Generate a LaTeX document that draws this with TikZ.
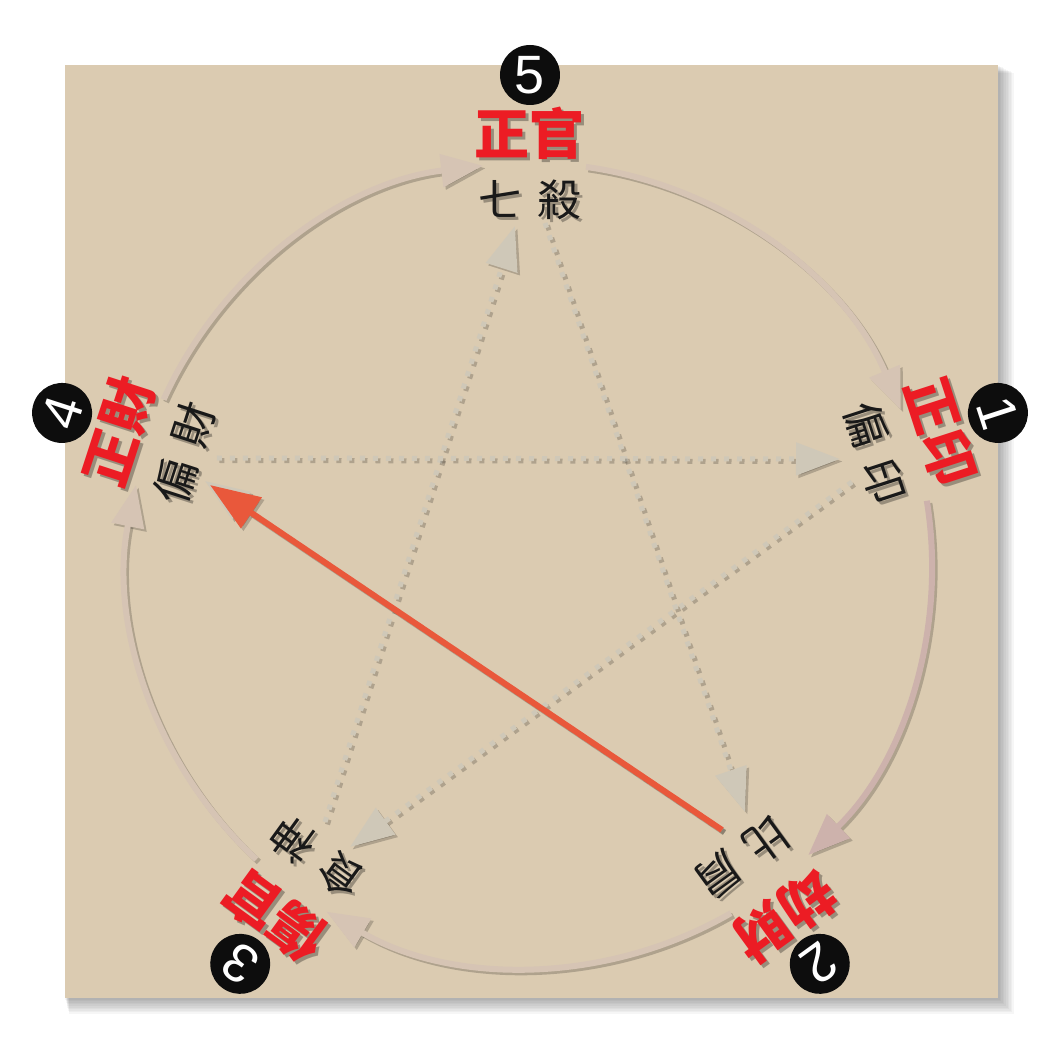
\documentclass[tikz,border=0pt]{standalone}
\usepackage{fontspec}
\newfontfamily\cjk{Noto Sans CJK TC}
\newfontfamily\numf{Liberation Sans}
\usetikzlibrary{arrows.meta,calc}
\definecolor{bg}{HTML}{DBCBB1}
\definecolor{arcc}{HTML}{D6C4B4}
\definecolor{arcd}{HTML}{CDB2AC}
\definecolor{dotc}{HTML}{CFC8B8}
\definecolor{redl}{HTML}{E9583B}
\definecolor{redt}{HTML}{EC1C24}
\newcommand\arcarrow[4]{%
  \coordinate (#2) at (#3:402);
  \draw[#1, draw=black, opacity=.2, transform canvas={shift={(2.5pt,-2.5pt)}}] (#2) arc[start angle=#3, end angle=#4, radius=402];
  \draw[#1] (#2) arc[start angle=#3, end angle=#4, radius=402];}
\newcommand\stararrow[3]{%
  \draw[#1, draw=black, opacity=.2, transform canvas={shift={(2.5pt,-2.5pt)}}] (#2) -- (#3);
  \draw[#1] (#2) -- (#3);}
\newcommand\lbl[5]{%
  \node[#4, text=black, opacity=.3, rotate=#2-90] at ($(#2:#3)+(3,-3)$) {#5};
  \node[#4, rotate=#2-90] (#1) at (#2:#3) {#5};}
\begin{document}
\begin{tikzpicture}[x=1pt,y=1pt,
  arcline/.style={line width=6pt, draw=arcc, -{Triangle[length=42pt,width=32pt]}},
  arcdark/.style={arcline, draw=arcd},
  dotline/.style={line width=5pt, draw=dotc, dash pattern=on 5pt off 8pt, -{Triangle[length=44pt,width=32pt]}},
  redline/.style={line width=6pt, draw=redl, -{Triangle[length=50pt,width=36pt]}},
  redlbl/.style={font=\cjk\bfseries\fontsize{55}{55}\selectfont, text=redt, inner sep=0pt},
  blklbl/.style={font=\cjk\fontsize{44}{44}\selectfont, text=black!90, inner sep=0pt},
  numlbl/.style={circle, fill=black!95, minimum size=60pt, inner sep=0pt, text=white, font=\numf\fontsize{54}{54}\selectfont}]
\useasboundingbox (-530,-498) rectangle (533,565);
% background square with soft shadow
\foreach \d in {2,4,...,20}
  \fill[black, opacity=0.035] (-465+\d*0.2,500-\d*0.4) rectangle (468+\d*0.8, -433-\d*0.8);
\fill[bg] (-465,500) rectangle (468,-433);
% outer cycle arcs
\arcarrow{arcline}{a45}{155.7}{96.7}
\arcarrow{arcline}{a51}{82}{22.7}
\arcarrow{arcdark}{a12}{9.2}{-46.2}
\arcarrow{arcline}{a23}{-60}{-120.4}
\arcarrow{arcline}{a34}{-132.9}{-191.5}
% star coordinates
\coordinate (s52) at (15,342);   \coordinate (t52) at (215,-247);
\coordinate (s13) at (322,83);   \coordinate (t13) at (-180,-282);
\coordinate (s35) at (-205,-257);\coordinate (t35) at (-15,339);
\coordinate (s41) at (-313,107); \coordinate (t41) at (310,106);
\coordinate (s24) at (192,-265); \coordinate (t24) at (-325,84);
\coordinate (r24) at (-320,80);
\stararrow{dotline}{s52}{t52}
\stararrow{dotline}{s13}{t13}
\stararrow{dotline}{s35}{t35}
\stararrow{dotline}{s41}{t41}
\stararrow{dotline}{s24}{t24}
\stararrow{redline}{s24}{r24}
% labels
\lbl{r5}{90}{432}{redlbl}{正官}
\lbl{r1}{18}{432}{redlbl}{正印}
\lbl{r2}{-54}{434}{redlbl}{劫財}
\lbl{r3}{-126}{434}{redlbl}{傷官}
\lbl{r4}{162}{432}{redlbl}{正財}
\lbl{b5}{90}{365}{blklbl}{七\hspace{0.35em}殺}
\lbl{b1}{18}{363}{blklbl}{偏\hspace{0.35em}印}
\lbl{b2}{-54}{362}{blklbl}{比\hspace{0.35em}肩}
\lbl{b3}{-126}{362}{blklbl}{食\hspace{0.35em}神}
\lbl{b4}{162}{363}{blklbl}{偏\hspace{0.35em}財}
% numbers
\node[numlbl, rotate=0] (n5) at (90:490) {5};
\node[numlbl, rotate=-72] (n1) at (18:492) {1};
\node[numlbl, rotate=-144] (n2) at (-54:493) {2};
\node[numlbl, rotate=144] (n3) at (-126:493) {3};
\node[numlbl, rotate=72] (n4) at (162:492) {4};
\end{tikzpicture}
\end{document}
